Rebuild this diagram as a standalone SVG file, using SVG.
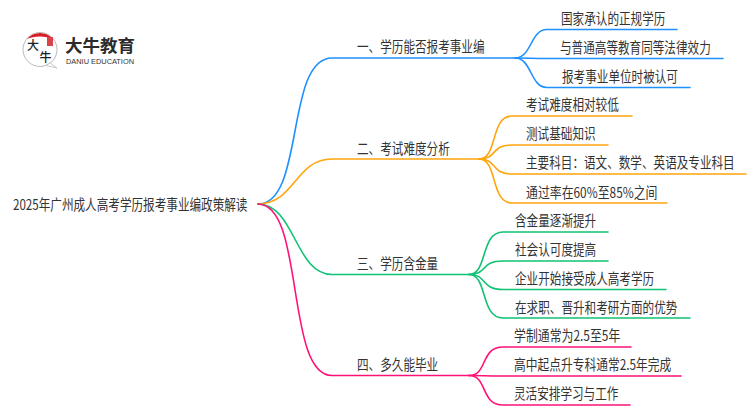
<svg xmlns="http://www.w3.org/2000/svg" width="750" height="410" viewBox="0 0 750 410">
<style>
text{font-family:"Noto Sans CJK SC","Noto Sans",sans-serif;fill:#333;font-size:14.500px}
.c path{fill:none;stroke-width:1.6;stroke-linecap:round}
.b path{stroke:#1e90ff}.o path{stroke:#ffa50f}.g path{stroke:#10c274}.p path{stroke:#ff1278}
</style>
<rect width="750" height="410" fill="#fff"/>
<g id="connectors" class="c">
<g class="b"><path d="M258 204C305 204 285 58 332 58H515"/><path d="M515 58C532 58 530 29.500 547 29.500H677"/><path d="M515 58C532 58 530 58.500 547 58.500H723"/><path d="M515 58C532 58 530 87.500 547 87.500H690"/></g>
<g class="o"><path d="M258 204C295 204 295 159 332 159H479"/><path d="M479 159C498 159 490 116 512 116H632"/><path d="M479 159C498 159 490 145 512 145H608"/><path d="M479 159C498 159 490 174 512 174H746"/><path d="M479 159C498 159 490 203 512 203H667"/></g>
<g class="g"><path d="M258 204C295 204 295 274.500 332 274.500H469"/><path d="M469 274.500C488 274.500 480 232 503 232H608"/><path d="M469 274.500C488 274.500 480 261 503 261H608"/><path d="M469 274.500C488 274.500 480 289.500 503 289.500H666"/><path d="M469 274.500C488 274.500 480 318 503 318H690"/></g>
<g class="p"><path d="M258 204C305 204 285 375.500 332 375.500H469"/><path d="M469 375.500C488 375.500 480 347 503 347H631"/><path d="M469 375.500C488 375.500 480 376 503 376H681"/><path d="M469 375.500C488 375.500 480 405 503 405H630"/></g>
</g>
<g id="logo">
<circle cx="40" cy="49.500" r="17" fill="#fff" stroke="#bbb" stroke-width="1"/>
<path d="M27 39A17 17 0 0 1 53 39C46 35.500 34 35.500 27 39Z" fill="#d81e28"/>
<rect x="47" y="37" width="6" height="9" fill="#d9434a"/>
<path d="M50 63L57 68L46 65.500Z" fill="#fff" stroke="#bbb" stroke-width=".8"/>
<text x="27" y="50" style="font-size:12px;fill:#222;font-weight:500">大</text>
<text x="39.500" y="62" style="font-size:12px;fill:#222;font-weight:500">牛</text>
<text x="65" y="52" textLength="70" lengthAdjust="spacingAndGlyphs" style="font-size:17px;font-weight:700;fill:#2b2b2b">大牛教育</text>
<text x="66" y="64" textLength="68" lengthAdjust="spacingAndGlyphs" style="font-size:7.500px;fill:#333;font-family:'Liberation Sans',sans-serif">DANIU EDUCATION</text>
</g>
<g id="root"><text transform="translate(13 210) scale(.8 1)">2025年广州成人高考学历报考事业编政策解读</text></g>
<g id="n1"><text transform="translate(357 52) scale(.8 1)">一、学历能否报考事业编</text></g>
<g id="n1-1"><text transform="translate(561 24) scale(.8 1)">国家承认的正规学历</text></g>
<g id="n1-2"><text transform="translate(560 53) scale(.8 1)">与普通高等教育同等法律效力</text></g>
<g id="n1-3"><text transform="translate(562 82) scale(.8 1)">报考事业单位时被认可</text></g>
<g id="n2"><text transform="translate(357 154) scale(.8 1)">二、考试难度分析</text></g>
<g id="n2-1"><text transform="translate(526 110) scale(.8 1)">考试难度相对较低</text></g>
<g id="n2-2"><text transform="translate(526 139) scale(.8 1)">测试基础知识</text></g>
<g id="n2-3"><text transform="translate(526 168) scale(.8 1)">主要科目：语文、数学、英语及专业科目</text></g>
<g id="n2-4"><text transform="translate(526 198) scale(.82 1)">通过率在60%至85%之间</text></g>
<g id="n3"><text transform="translate(357 269) scale(.8 1)">三、学历含金量</text></g>
<g id="n3-1"><text transform="translate(515 226) scale(.8 1)">含金量逐渐提升</text></g>
<g id="n3-2"><text transform="translate(515 255) scale(.8 1)">社会认可度提高</text></g>
<g id="n3-3"><text transform="translate(515 284) scale(.8 1)">企业开始接受成人高考学历</text></g>
<g id="n3-4"><text transform="translate(515 313) scale(.8 1)">在求职、晋升和考研方面的优势</text></g>
<g id="n4"><text transform="translate(357 370) scale(.8 1)">四、多久能毕业</text></g>
<g id="n4-1"><text transform="translate(514 341) scale(.82 1)">学制通常为2.5至5年</text></g>
<g id="n4-2"><text transform="translate(514 370) scale(.81 1)">高中起点升专科通常2.5年完成</text></g>
<g id="n4-3"><text transform="translate(514 399) scale(.8 1)">灵活安排学习与工作</text></g>
</svg>
